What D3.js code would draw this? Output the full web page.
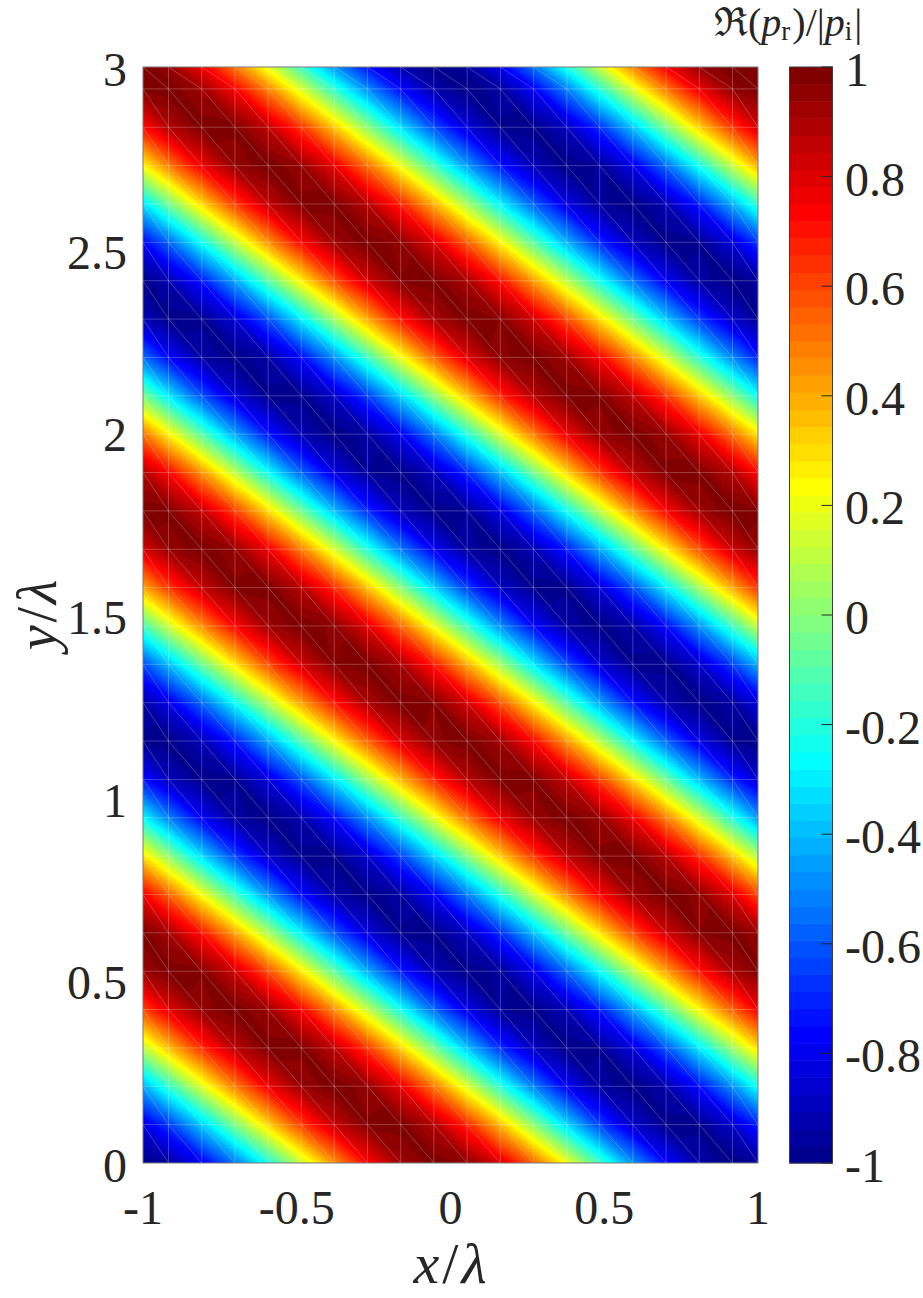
<!DOCTYPE html>
<html>
<head>
<meta charset="utf-8">
<script src="https://cdn.jsdelivr.net/npm/d3@7"></script>
<style>
body{margin:0;background:#fff;}
text{font-family:"Liberation Serif","Times New Roman","DejaVu Serif",serif;fill:#262626;}
</style>
</head>
<body>
<script>
const width=923, height=1298;

const xTicks=[-1,-0.5,0,0.5,1];
const yTicks=[0,0.5,1,1.5,2,2.5,3];
const cbTicks=[-1,-0.8,-0.6,-0.4,-0.2,0,0.2,0.4,0.6,0.8,1];

// y/λ of each extremum, followed along its stripe back to the left edge x/λ=-1
const extremaY=[-0.01,0.60,1.19,1.80,2.39,2.98,3.60,4.19];
const extremaV=[-1,1,-1,1,-1,1,-1,1];
// stripes fall this much in y/λ per unit of x/λ
const stripeDrop=[0.62];

// mesh node lines (x/λ and y/λ)
const meshX=[-0.917,-0.809,-0.701,-0.593,-0.485,-0.378,-0.270,-0.162,-0.054,0.054,0.162,0.270,0.378,0.485,0.593,0.701,0.809,0.917];
const meshY=[0.105,0.21,0.315,0.42,0.525,0.63,0.735,0.84,0.945,1.05,1.155,1.26,1.365,1.47,1.575,1.68,1.785,1.89,1.995,2.1,2.205,2.31,2.415,2.52,2.625,2.73,2.835,2.94];

const pL=143, pR=758, pT=67, pB=1163;

let x=d3.scaleLinear().domain([-1,1]).range([pL,pR]);
let y=d3.scaleLinear().domain([0,3]).range([pB,pT]);
let cb=d3.scaleLinear().domain([-1,1]).range([pB,pT]);

// matlab jet(64)
function jet(m){
  const n=Math.ceil(m/4);
  const u=[...d3.range(1,n+1).map(k=>k/n),...Array(n-1).fill(1),...d3.range(n,0,-1).map(k=>k/n)];
  const g0=Math.ceil(n/2)-(m%4===1?1:0);
  const at=k=>(k>=1&&k<=u.length)?u[k-1]:0;
  const out=[];
  for(let i=1;i<=m;i++) out.push([at(i-g0-n),at(i-g0),at(i-g0+n)].map(c=>Math.round(c*255)));
  return out;
}
const cmap=jet(64);
const colorIndex=d3.scaleQuantize().domain([-1,1]).range(d3.range(64));

const phase=d3.scaleLinear().domain(extremaY).range(extremaY.map((d,i)=>i));
function field(px,py){
  const y0=py+stripeDrop[0]*(px+1);
  return extremaV[0]*Math.cos(Math.PI*phase(y0));
}

// node values on the triangular mesh
const xs=[-1,...meshX,1], ys=[0,...meshY,3];
const V=ys.map(b=>xs.map(a=>field(a,b)));

let svg=d3.select('body').append('svg')
  .attr('width',width).attr('height',height)
  .attr('id','plot');

// field image
const W=pR-pL, H=pB-pT;
const canvas=document.createElement('canvas');
canvas.width=W; canvas.height=H;
const ctx=canvas.getContext('2d');
const img=ctx.createImageData(W,H);
for(let py=0;py<H;py++){
  const yy=y.invert(pT+py+0.5);
  let j=Math.min(d3.bisectRight(ys,yy)-1,ys.length-2);
  if(j<0) j=0;
  const w=(yy-ys[j])/(ys[j+1]-ys[j]);
  for(let px=0;px<W;px++){
    const xx=x.invert(pL+px+0.5);
    let i=Math.min(d3.bisectRight(xs,xx)-1,xs.length-2);
    if(i<0) i=0;
    const u=(xx-xs[i])/(xs[i+1]-xs[i]);
    let v;
    if(u+w<=1){
      v=V[j][i]+u*(V[j][i+1]-V[j][i])+w*(V[j+1][i]-V[j][i]);
    }else{
      v=V[j+1][i+1]+(1-u)*(V[j+1][i]-V[j+1][i+1])+(1-w)*(V[j][i+1]-V[j+1][i+1]);
    }
    const c=cmap[colorIndex(Math.max(-1,Math.min(1,v)))];
    const k=(py*W+px)*4;
    img.data[k]=c[0]; img.data[k+1]=c[1]; img.data[k+2]=c[2]; img.data[k+3]=255;
  }
}
ctx.putImageData(img,0,0);
svg.append('image')
  .attr('x',pL).attr('y',pT)
  .attr('width',W).attr('height',H)
  .attr('preserveAspectRatio','none')
  .attr('href',canvas.toDataURL());

// mesh edges
let mesh=svg.append('g').attr('id','mesh')
  .attr('stroke','#ffffff').attr('stroke-opacity',0.3).attr('stroke-width',0.8).attr('fill','none');
mesh.selectAll('.vl').data(meshX).enter().append('line')
  .attr('x1',d=>x(d)).attr('x2',d=>x(d)).attr('y1',pT).attr('y2',pB);
mesh.selectAll('.hl').data(meshY).enter().append('line')
  .attr('y1',d=>y(d)).attr('y2',d=>y(d)).attr('x1',pL).attr('x2',pR);
let diag='';
for(let j=0;j<ys.length-1;j++){
  for(let i=0;i<xs.length-1;i++){
    diag+=`M${x(xs[i])},${y(ys[j+1])}L${x(xs[i+1])},${y(ys[j])}`;
  }
}
mesh.append('path').attr('d',diag);

// axes box
svg.append('rect').attr('x',pL).attr('y',pT).attr('width',W).attr('height',H)
  .attr('fill','none').attr('stroke','#7a7a7a').attr('stroke-width',1);

// tick labels
svg.append('g').attr('id','yaxis').selectAll('text').data(yTicks).enter().append('text')
  .attr('x',127).attr('y',d=>y(d)+19)
  .attr('text-anchor','end').style('font-size','48px')
  .text(d=>d);
svg.append('g').attr('id','xaxis').selectAll('text').data(xTicks).enter().append('text')
  .attr('x',d=>x(d)).attr('y',1224)
  .attr('text-anchor','middle').style('font-size','48px')
  .text(d=>d);

// axis labels
let xl=svg.append('text').attr('x',450).attr('y',1283).attr('text-anchor','middle').style('font-size','58px');
xl.append('tspan').style('font-style','italic').text('x');
xl.append('tspan').attr('dx',3).text('/');
xl.append('tspan').attr('dx',3).style('font-style','italic').text('λ');

let yl=svg.append('text').attr('transform','translate(56,615) rotate(-90)').attr('text-anchor','middle').style('font-size','56px');
yl.append('tspan').style('font-style','italic').text('y');
yl.append('tspan').attr('dx',3).text('/');
yl.append('tspan').attr('dx',3).style('font-style','italic').text('λ');

// colorbar
const cbLeft=789.5, cbW=43;
let bar=svg.append('g').attr('id','colorbar');
bar.selectAll('rect').data(d3.range(64)).enter().append('rect')
  .attr('x',cbLeft).attr('width',cbW)
  .attr('y',d=>cb(-1+(d+1)*2/64))
  .attr('height',d=>cb(-1+d*2/64)-cb(-1+(d+1)*2/64)+0.5)
  .attr('fill',d=>d3.rgb(...cmap[d]));
bar.append('rect').attr('x',cbLeft).attr('y',pT).attr('width',cbW).attr('height',H)
  .attr('fill','none').attr('stroke','#3c3c3c').attr('stroke-width',1);
bar.selectAll('line').data(cbTicks).enter().append('line')
  .attr('x1',cbLeft+cbW).attr('x2',cbLeft+cbW-11)
  .attr('y1',d=>cb(d)).attr('y2',d=>cb(d))
  .attr('stroke','#262626').attr('stroke-width',1);
bar.selectAll('text').data(cbTicks).enter().append('text')
  .attr('x',845).attr('y',d=>cb(d)+19)
  .style('font-size','48px')
  .text(d=>d);

// colorbar title
let tt=svg.append('text').attr('x',714).attr('y',36).style('font-size','40px');
tt.append('tspan').text('ℜ(');
tt.append('tspan').style('font-style','italic').text('p');
tt.append('tspan').attr('dy',4).style('font-size','27px').text('r');
tt.append('tspan').attr('dy',-4).attr('dx',2).text(')/|');
tt.append('tspan').style('font-style','italic').text('p');
tt.append('tspan').attr('dy',4).style('font-size','27px').text('i');
tt.append('tspan').attr('dy',-4).attr('dx',2).text('|');
</script>
</body>
</html>
